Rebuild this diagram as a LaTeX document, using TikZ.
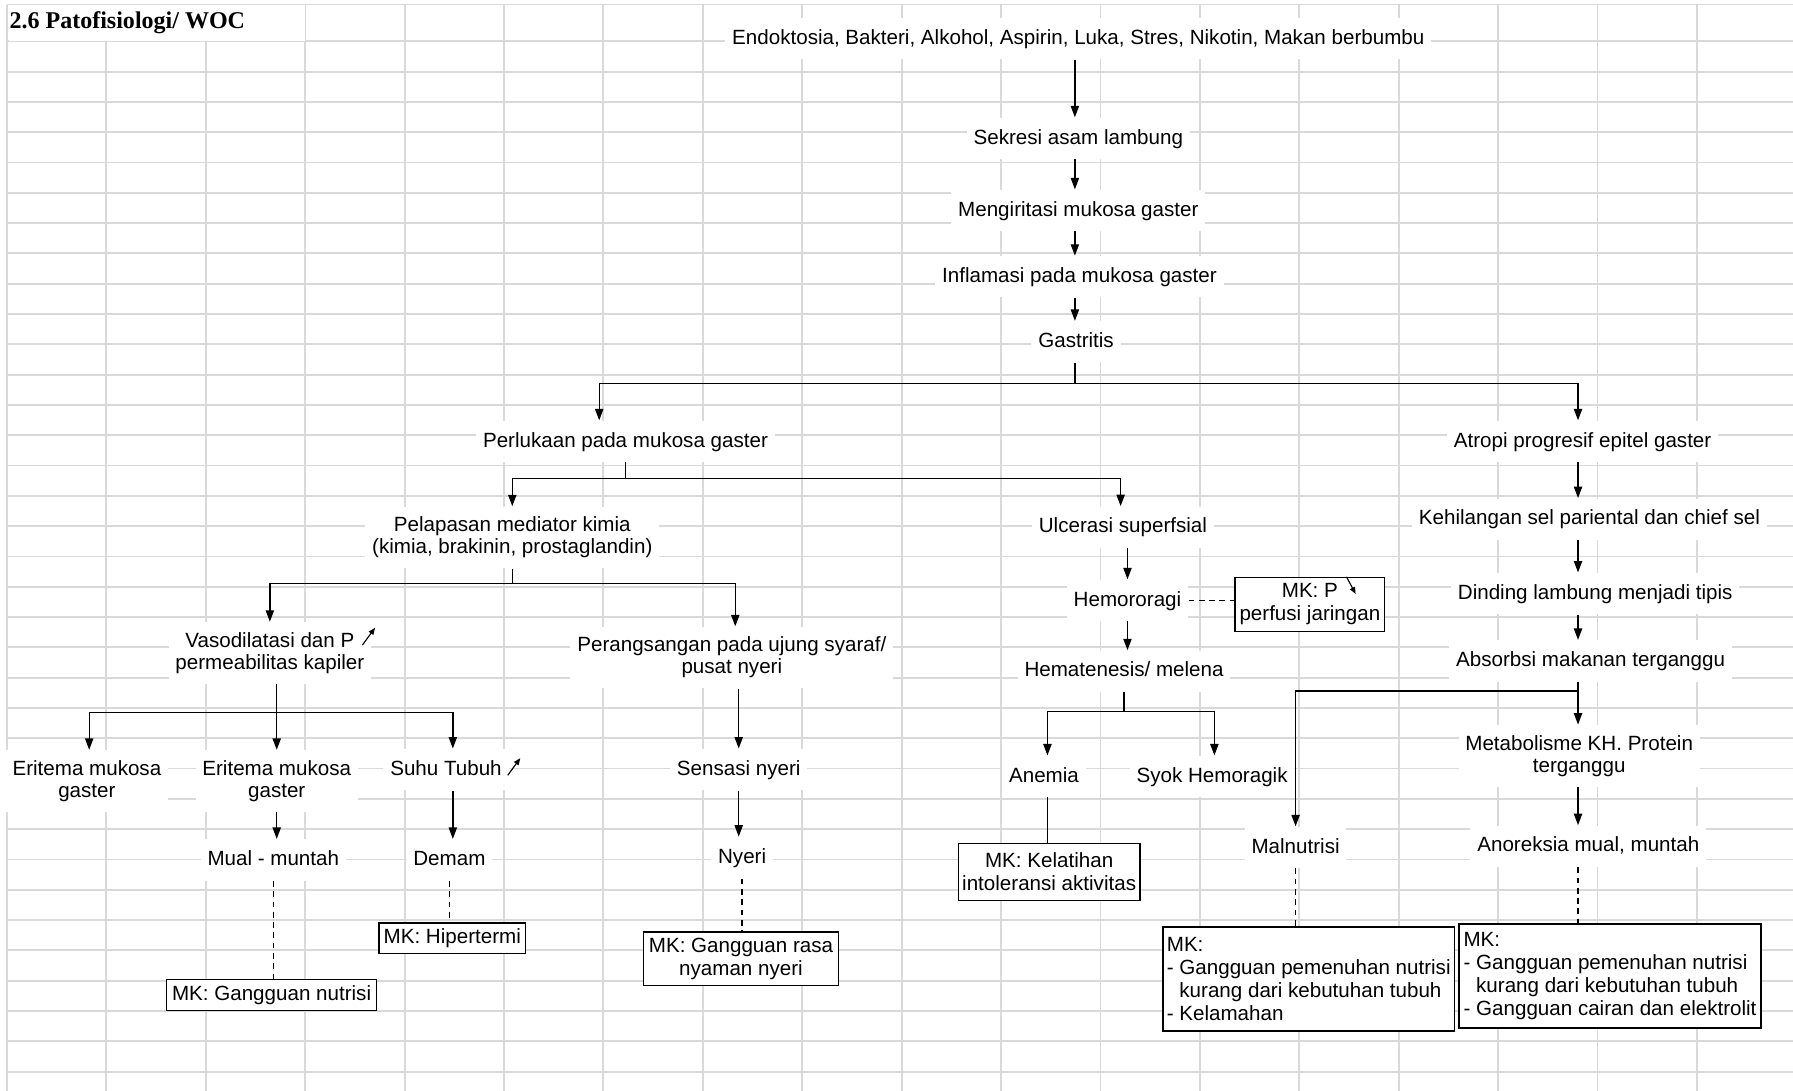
\documentclass[tikz,border=0pt]{standalone}
\usepackage{fontspec}
\setmainfont{Liberation Sans}
\newfontfamily\judul{Liberation Serif}
\usetikzlibrary{arrows.meta}
\definecolor{kisi}{RGB}{217,217,217}

\tikzset{
  teks/.style={fill=white, inner xsep=3pt, inner ysep=4.5pt, text height=7pt, text depth=2pt},
  teksdua/.style={fill=white, inner xsep=3pt, inner ysep=4.5pt, align=center},
  kotak/.style={draw, fill=white, line width=0.6pt, inner xsep=1.5pt, inner ysep=1.5pt, align=center, font=\fontsize{9}{10}\selectfont},
  panah/.style={line width=0.6pt, -{Triangle[width=3.6pt,length=5pt]}},
  putus/.style={line width=0.6pt, dash pattern=on 2.5pt off 2pt},
  naik/.style={line width=0.5pt, -{Triangle[width=2.4pt,length=3pt]}}
}

\begin{document}
\begin{tikzpicture}[x=0.5pt, y=-0.5pt, font=\fontsize{9}{9.5}\selectfont]

      \useasboundingbox (0,0) rectangle (1568,954);
      \fill[white] (0,0) rectangle (1568,954);

      \begin{scope}[kisi, line width=0.8pt]
        \foreach \i in {0,...,17}
          \draw ({6.1+86.93*\i},4) -- ({6.1+86.93*\i},954);
        \draw (6.1,4) -- (1568,4);
        \foreach \j in {0,...,34}
          \draw (6.1,{36.1+26.5*\j}) -- (1568,{36.1+26.5*\j});
      \end{scope}

      \fill[white] (7.5,4.6) rectangle (266.5,35.6);
      \node[anchor=west, inner sep=0pt, font=\judul\bfseries\fontsize{10.5}{12}\selectfont] (0) at (8,20) {2.6 Patofisiologi/ WOC};

      \coordinate (tengah) at (940,0);
      \coordinate (poros) at (1380,0);

      \begin{scope}[every node/.style={teks}]
        \node (1)  at (943,34)   {Endoktosia, Bakteri, Alkohol, Aspirin, Luka, Stres, Nikotin, Makan berbumbu};
        \node (2)  at (943,121)  {Sekresi asam lambung};
        \node (3)  at (943,184)  {Mengiritasi mukosa gaster};
        \node (4)  at (944,242)  {Inflamasi pada mukosa gaster};
        \node (5)  at (941,299)  {Gastritis};
        \node (6)  at (547,386)  {Perlukaan pada mukosa gaster};
        \node (7)  at (1384,386) {Atropi progresif epitel gaster};
        \node (9)  at (982,461)  {Ulcerasi superfsial};
        \node (10) at (1390,454) {Kehilangan sel pariental dan chief sel};
        \node (11) at (986,525)  {Hemororagi};
        \node (13) at (1395,519) {Dinding lambung menjadi tipis};
        \node (16) at (983,587)  {Hematenesis/ melena};
        \node (17) at (1391,578) {Absorbsi makanan terganggu};
        \node (20) at (390,673)  {Suhu Tubuh};
        \node (21) at (646,673)  {Sensasi nyeri};
        \node (22) at (913,679)  {Anemia};
        \node (23) at (1060,679) {Syok Hemoragik};
        \node (25) at (239,752)  {Mual - muntah};
        \node (26) at (393,752)  {Demam};
        \node (27) at (649,750)  {Nyeri};
        \node (29) at (1133,741) {Malnutrisi};
        \node (30) at (1389,740) {Anoreksia mual, muntah};
      \end{scope}

      \begin{scope}[every node/.style={teksdua}]
        \node (8)  at (448,470)  {Pelapasan mediator kimia\\(kimia, brakinin, prostaglandin)};
        \node (14) at (236,571)  {Vasodilatasi dan P\\permeabilitas kapiler};
        \node (15) at (640,575)  {Perangsangan pada ujung syaraf/\\pusat nyeri};
        \node (18) at (76,683)   {Eritema mukosa\\gaster};
        \node (19) at (242,683)  {Eritema mukosa\\gaster};
        \node (24) at (1381,661) {Metabolisme KH. Protein\\terganggu};
      \end{scope}

      \begin{scope}[every node/.style={kotak}]
        \node[minimum width=65.5pt, minimum height=23.5pt] (12) at (1145.5,528.5) {MK: P\\perfusi jaringan};
        \node[minimum width=79.5pt, minimum height=25pt]   (28) at (917.5,762.5) {MK: Kelatihan\\intoleransi aktivitas};
        \node[minimum width=64pt, minimum height=13.5pt]   (31) at (395.5,820.5) {MK: Hipertermi};
        \node[minimum width=85pt, minimum height=23.5pt]   (32) at (648,838.5)   {MK: Gangguan rasa\\nyaman nyeri};
        \node[minimum width=92pt, minimum height=13.5pt]   (33) at (237.5,870)   {MK: Gangguan nutrisi};
        \node[align=left, minimum width=127.5pt, minimum height=45.5pt] (34) at (1144.5,856)
          {MK:\\- Gangguan pemenuhan nutrisi\\\hspace*{5.5pt}kurang dari kebutuhan tubuh\\- Kelamahan};
        \node[align=left, minimum width=132pt, minimum height=45.5pt] (35) at (1408,853.5)
          {MK:\\- Gangguan pemenuhan nutrisi\\\hspace*{5.5pt}kurang dari kebutuhan tubuh\\- Gangguan cairan dan elektrolit};
      \end{scope}

      \begin{scope}[panah]
        \draw (1.south -| tengah) -- (2.north -| tengah);
        \draw (2.south -| tengah) -- (3.north -| tengah);
        \draw (3.south -| tengah) -- (4.north -| tengah);
        \draw (4.south -| tengah) -- (5.north -| tengah);
        \draw (5.south -| tengah) -- ++(0,18) -| ([xshift=-11.5pt]6.north);
        \draw (5.south -| tengah) -- ++(0,18) -| (7.north -| poros);
        \draw (6.south) -- ++(0,14) -| (8.north);
        \draw (6.south) -- ++(0,14) -| ([xshift=-1pt]9.north);
        \draw (7.south -| poros) -- (10.north -| poros);
        \draw (10.south -| poros) -- (13.north -| poros);
        \draw (13.south -| poros) -- (17.north -| poros);
        \draw (17.south -| poros) -- (24.north -| poros);
        \draw (17.south -| poros) -- ++(0,8) -| (29.north);
        \draw (24.south -| poros) -- (30.north -| poros);
        \draw (8.south) -- ++(0,13) -| (14.north);
        \draw (8.south) -- ++(0,13) -| ([xshift=1.5pt]15.north);
        \draw (9.south -| 11) -- (11.north);
        \draw (11.south) -- (16.north -| 11);
        \draw (14.south -| 19) -- (19.north);
        \draw (14.south -| 19) -- ++(0,25) -| ([xshift=1pt]18.north);
        \draw (14.south -| 19) -- ++(0,25) -| ([xshift=3pt]20.north);
        \draw (19.south) -- (25.north -| 19);
        \draw ([xshift=3pt]20.south) -- ([xshift=3pt]20.south |- 26.north);
        \draw (15.south -| 21) -- (21.north);
        \draw (21.south) -- (27.north -| 21);
        \draw (16.south) -- ++(0,17) -| ([xshift=1.5pt]22.north);
        \draw (16.south) -- ++(0,17) -| ([xshift=1pt]23.north);
      \end{scope}

      \begin{scope}[putus]
        \draw (11.east) -- (11.east -| 12.west);
        \draw (25.south) -- (25.south |- 33.north);
        \draw (26.south) -- (26.south |- 31.north);
        \draw (27.south) -- (27.south |- 32.north);
        \draw (29.south) -- (29.south |- 34.north);
        \draw (30.south -| poros) -- (35.north -| poros);
      \end{scope}

      \draw[line width=0.6pt] ([xshift=1.5pt]22.south) -- ([xshift=1.5pt]22.south |- 28.north);

      \draw[naik] ([shift={(81,-7)}]14.center) -- ++(11,-15);
      \draw[naik] ([shift={(54,5)}]20.center) -- ++(11,-15);
      \draw[naik] ([shift={(32,0)}]12.north) -- ++(8,15);

    \end{tikzpicture}
\end{document}
